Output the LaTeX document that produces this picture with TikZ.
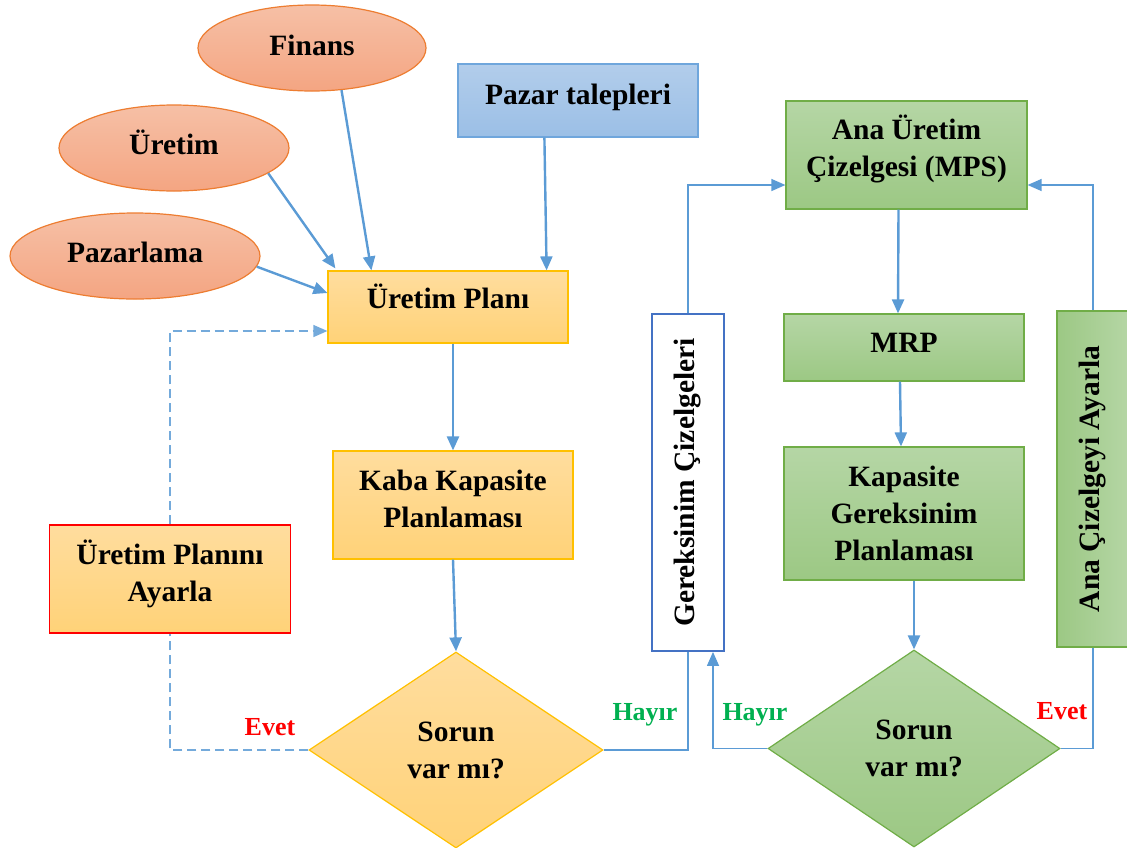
\documentclass[tikz,border=0pt]{standalone}
\usepackage{fontspec}
\setmainfont{Liberation Serif}
\usetikzlibrary{shapes.geometric, arrows.meta, calc}

\definecolor{peachTop}{HTML}{F6C0A6}
\definecolor{peachBot}{HTML}{F4A582}
\definecolor{peachLine}{HTML}{ED7D31}
\definecolor{blueTop}{HTML}{B2CDEB}
\definecolor{blueBot}{HTML}{9BBFE6}
\definecolor{blueLine}{HTML}{6FA6DC}
\definecolor{yelTop}{HTML}{FFDD9E}
\definecolor{yelBot}{HTML}{FFD278}
\definecolor{yelLine}{HTML}{FFC000}
\definecolor{grnTop}{HTML}{B5D6A5}
\definecolor{grnBot}{HTML}{9CC884}
\definecolor{grnLine}{HTML}{70AD47}
\definecolor{flow}{HTML}{5B9BD5}
\definecolor{frameBlue}{HTML}{4472C4}
\definecolor{yesRed}{HTML}{FF0000}
\definecolor{noGreen}{HTML}{00B050}

\begin{document}
\begin{tikzpicture}[x=1pt, y=-1pt,
  txt/.style={font=\fontsize{29.5}{37}\selectfont\bfseries, align=center, text=black},
  lbl/.style={font=\fontsize{26}{30}\selectfont\bfseries},
  % extra depth below the text lifts it inside its shape
  lift/.style={text depth=#1},
  oval/.style={ellipse, txt, top color=peachTop, bottom color=peachBot, draw=peachLine,
    line width=1.2pt, inner sep=0pt, minimum width=#1, minimum height=86pt},
  bluebox/.style={rectangle, txt, top color=blueTop, bottom color=blueBot, draw=blueLine, line width=1.2pt},
  yelbox/.style={rectangle, txt, top color=yelTop, bottom color=yelBot, draw=yelLine, line width=1.2pt},
  grnbox/.style={rectangle, txt, top color=grnTop, bottom color=grnBot, draw=grnLine, line width=1.2pt},
  yeldiamond/.style={diamond, aspect=1.5, txt, inner sep=0pt, top color=yelTop, bottom color=yelBot,
    draw=yelLine, line width=1.2pt},
  grndiamond/.style={diamond, aspect=1.5, txt, inner sep=0pt, top color=grnTop, bottom color=grnBot,
    draw=grnLine, line width=1.2pt},
  mainarrow/.style={draw=flow, line width=2.4pt, -{Triangle[length=14pt, width=12pt]}},
  thinline/.style={draw=flow, line width=1.3pt},
  thinarrow/.style={thinline, -{Triangle[length=14pt, width=12pt]}},
  dashline/.style={draw=flow!85!white, line width=1.3pt, dash pattern=on 9pt off 5pt},
]
\useasboundingbox (0,0) rectangle (1127,847);

% departments feeding the production plan
\node[oval=228pt, lift=6pt] (fin) at (312,48) {Finans};
\node[oval=230pt, lift=12pt] (ure) at (174,148) {Üretim};
\node[oval=250pt, lift=8pt] (paz) at (135,256) {Pazarlama};
\node[bluebox, lift=12pt, minimum width=240pt, minimum height=73pt] (pt) at (578,100.5) {Pazar talepleri};

% left column: aggregate planning
\node[yelbox, lift=22pt, minimum width=240pt, minimum height=72pt] (up) at (448,307) {Üretim Planı};
\node[yelbox, lift=12pt, minimum width=240pt, minimum height=108pt] (kk) at (453,505) {Kaba Kapasite\\Planlaması};
\node[yelbox, lift=16pt, draw=yesRed, minimum width=241pt, minimum height=108pt] (ua) at (170,579) {Üretim Planını\\Ayarla};
\node[yeldiamond, minimum width=294pt, minimum height=196pt] (d1) at (456,750) {Sorun\\var mı?};

% middle: requirement schedules
\node[txt, rotate=90, draw=frameBlue, line width=1.8pt, fill=white,
  minimum width=337pt, minimum height=72pt] (gc) at (688,482.5) {Gereksinim Çizelgeleri};

% right column: detailed planning
\node[grnbox, lift=18pt, minimum width=241pt, minimum height=108pt] (ana) at (906.5,155) {Ana Üretim\\Çizelgesi (MPS)};
\node[grnbox, lift=10pt, minimum width=240pt, minimum height=67pt] (mrp) at (904,347.5) {MRP};
\node[grnbox, minimum width=240pt, minimum height=133pt] (kap) at (904,513.5) {Kapasite\\Gereksinim\\Planlaması};
\node[grndiamond, minimum width=292pt, minimum height=197pt] (d2) at (914,748.5) {Sorun\\var mı?};
\node[rectangle, txt, rotate=90, left color=grnBot, right color=grnTop, draw=grnLine, line width=1.2pt,
  minimum width=336pt, minimum height=72pt] (aca) at (1093,479) {Ana Çizelgeyi Ayarla};

% inputs to the production plan
\draw[mainarrow] (fin.-55) -- ($(up.north west)+(44,0)$);
\draw[mainarrow] (ure.-15) -- ($(up.north west)+(8,-2)$);
\draw[mainarrow] (paz.-5) -- ($(up.west)+(0,-14)$);
\draw[mainarrow] ($(pt.south west)+(87,0)$) -- ($(up.north east)+(-22,0)$);

% left flow
\draw[mainarrow] (up.south -| kk.north) -- (kk.north);
\draw[mainarrow] (kk.south) -- (d1.north);
\draw[dashline] (d1.west) -| (ua.south);
\draw[dashline, -{Triangle[length=14pt, width=12pt]}] (ua.north) |- ($(up.west)+(0,24)$);
\node[lbl, text=yesRed] (evet1) at (270,727) {Evet};

\draw[thinline] (d1.east) -| (gc.west);
\node[lbl, text=noGreen] (hayir1) at (645,715) {Hayır};
\draw[thinarrow] (gc.east) |- ($(ana.west)+(0,30)$);

% right flow
\draw[mainarrow] ($(ana.south)+(-8,0)$) -- ($(mrp.north)+(-6,0)$);
\draw[mainarrow] ($(mrp.south)+(-4,0)$) -- ($(kap.north)+(-3,0)$);
\draw[mainarrow] (kap.south -| d2.north) -- (d2.north);
\draw[thinarrow] (d2.west) -| ($(gc.west)+(25,0)$);
\node[lbl, text=noGreen] (hayir2) at (755,715) {Hayır};
\draw[thinline] (d2.east) -| (aca.west);
\draw[thinarrow] (aca.east) |- ($(ana.east)+(0,30)$);
\node[lbl, text=yesRed] (evet2) at (1062,711) {Evet};
\end{tikzpicture}
\end{document}
